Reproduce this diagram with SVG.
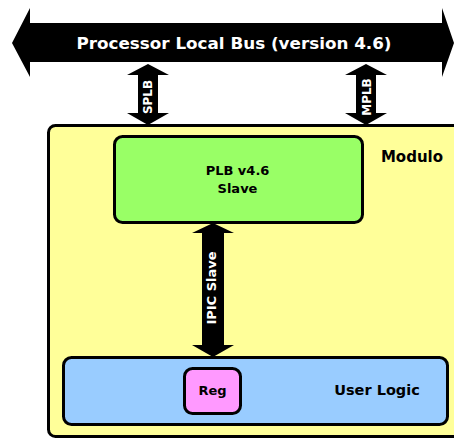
<svg xmlns="http://www.w3.org/2000/svg" width="454" height="438" viewBox="0 0 454 438">
  <style>
    .box { stroke: #000; stroke-width: 3; }
    .arrow { fill: #000; }
    .lbl { font-family: "DejaVu Sans", Verdana, sans-serif; font-weight: bold; fill: #000; }
    .wlbl { font-family: "DejaVu Sans", Verdana, sans-serif; font-weight: bold; fill: #fff; }
  </style>
  <rect width="454" height="438" fill="#fff"/>

  <!-- Processor Local Bus -->
  <g id="plb-bus">
    <polygon class="arrow" points="12,43 30,8 30,23 442,23 442,8 454,43 442,77 442,62 30,62 30,77"/>
    <text class="wlbl" x="234" y="48.5" font-size="15" text-anchor="middle" textLength="315" lengthAdjust="spacingAndGlyphs">Processor Local Bus (version 4.6)</text>
  </g>

  <!-- Module -->
  <g id="modulo">
    <rect class="box" x="48.5" y="125.5" width="420" height="311" rx="7" fill="#ffff99" stroke-width="2.5"/>
    <text class="lbl" x="412" y="162" font-size="15" text-anchor="middle">Modulo</text>
  </g>

  <!-- PLB slave interface -->
  <g id="plb-slave">
    <rect class="box" x="114.5" y="136.5" width="248" height="86" rx="8" fill="#99ff66"/>
    <text class="lbl" x="237.5" y="175" font-size="13" text-anchor="middle">PLB v4.6</text>
    <text class="lbl" x="237.5" y="193" font-size="13" text-anchor="middle">Slave</text>
  </g>

  <!-- User logic -->
  <g id="user-logic">
    <rect class="box" x="63.5" y="357.5" width="384" height="67" rx="8" fill="#99ccff"/>
    <text class="lbl" x="377" y="395" font-size="14.5" text-anchor="middle">User Logic</text>
  </g>

  <!-- Register -->
  <g id="reg">
    <rect class="box" x="184.5" y="368.5" width="56" height="45" rx="8" fill="#ff99ff"/>
    <text class="lbl" x="212.5" y="395" font-size="13" text-anchor="middle">Reg</text>
  </g>

  <!-- Connectors -->
  <g id="connectors">
    <g id="splb">
      <polygon class="arrow" points="148,64 169,75 158,75 158,113 169,113 148,125 127,113 138,113 138,75 127,75"/>
      <text class="wlbl" transform="translate(152,97) rotate(-90)" font-size="12" text-anchor="middle">SPLB</text>
    </g>
    <g id="mplb">
      <polygon class="arrow" points="366,64 387,75 376,75 376,113 387,113 366,125 345,113 356,113 356,75 345,75"/>
      <text class="wlbl" transform="translate(371,97) rotate(-90)" font-size="12" text-anchor="middle">MPLB</text>
    </g>
    <g id="ipic">
      <polygon class="arrow" points="213,223 234,233 224,233 224,345 234,345 213,357 192,345 202,345 202,233 192,233"/>
      <text class="wlbl" transform="translate(216,288) rotate(-90)" font-size="13" text-anchor="middle">IPIC Slave</text>
    </g>
  </g>
</svg>
